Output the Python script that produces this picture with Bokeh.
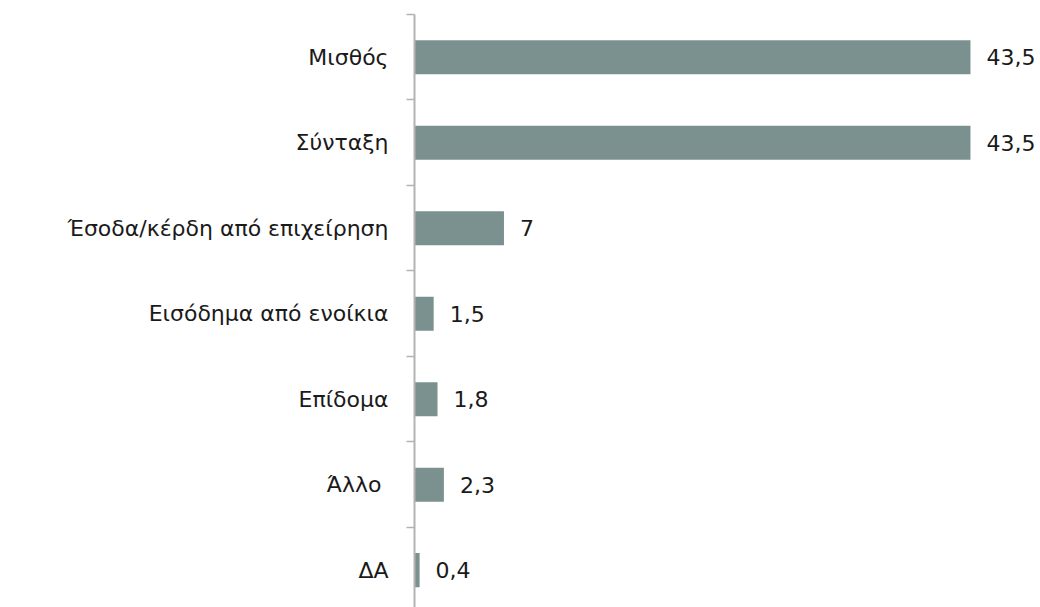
from bokeh.plotting import figure
from bokeh.models import Range1d, FixedTicker, ColumnDataSource
from bokeh.core.properties import value
from bokeh.embed import file_html
from bokeh.resources import INLINE

categories = ["Μισθός", "Σύνταξη", "Έσοδα/κέρδη από επιχείρηση",
              "Εισόδημα από ενοίκια", "Επίδομα", "Άλλο ", "ΔΑ"]
values = [43.5, 43.5, 7, 1.5, 1.8, 2.3, 0.4]

FONT = "DejaVu Sans"
BAR = "#7b918f"
AXIS = "#b3b3b3"

n = len(categories)
ypos = [n - 1 - i for i in range(n)]
labels = [("%g" % v).replace(".", ",") for v in values]

src = ColumnDataSource(dict(y=ypos, v=values, lab=labels))

p = figure(width=1040, height=607, output_backend="svg", toolbar_location=None,
           x_range=Range1d(0, 48.98), y_range=Range1d(-0.436, n - 0.5),
           min_border_left=414, min_border_top=14, min_border_bottom=0,
           min_border_right=0)

p.hbar(y="y", left=0, right="v", height=0.4, source=src, fill_color=BAR,
       line_color=None)
p.text(x="v", y="y", text="lab", source=src, x_offset=16,
       text_baseline="middle", text_align="left",
       text_font=value(FONT), text_font_size="22px", text_color="#1a1a1a")

p.xaxis.visible = False
p.xgrid.visible = False
p.ygrid.visible = False
p.outline_line_color = None

ya = p.yaxis[0]
ya.ticker = FixedTicker(ticks=ypos, minor_ticks=[k - 0.5 for k in range(n + 1)])
ya.major_label_overrides = {y: c for y, c in zip(ypos, categories)}
ya.major_tick_out = 0
ya.major_tick_in = 0
ya.minor_tick_out = 8
ya.minor_tick_in = 0
ya.minor_tick_line_color = AXIS
ya.minor_tick_line_width = 1.5
ya.axis_line_color = AXIS
ya.axis_line_width = 2
ya.major_label_standoff = 18
ya.major_label_text_font = FONT
ya.major_label_text_font_size = "22px"
ya.major_label_text_color = "#1a1a1a"

open("out.html", "w").write(file_html(p, INLINE))
